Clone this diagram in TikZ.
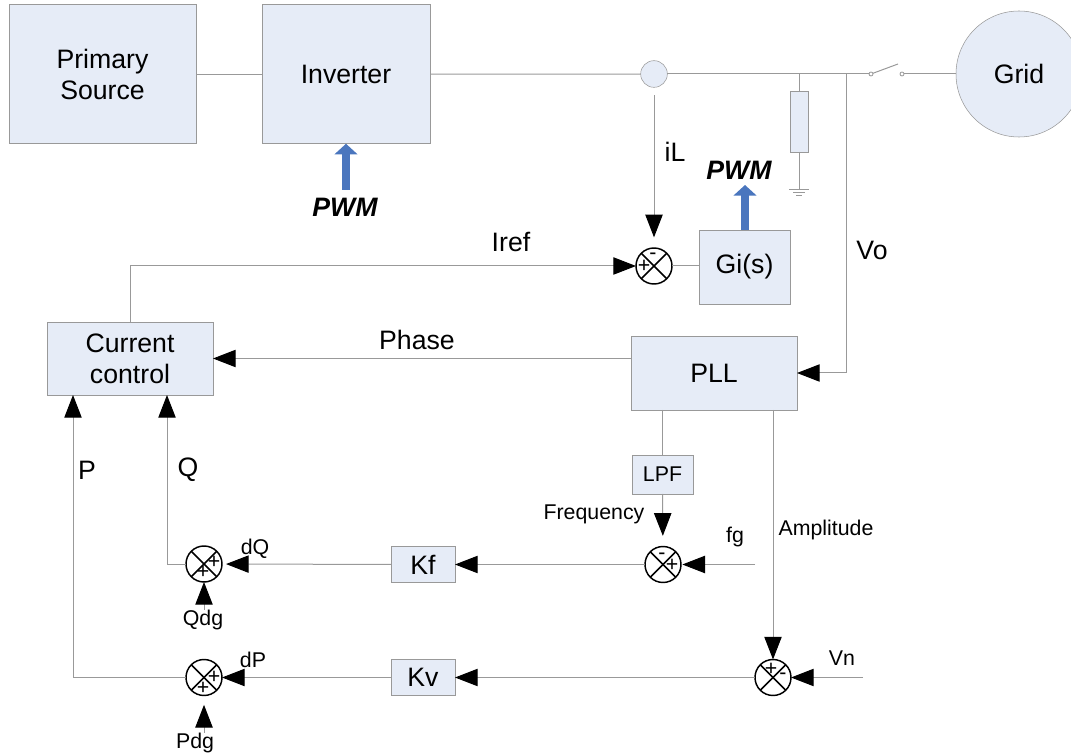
\documentclass[tikz,border=0pt]{standalone}
\usepackage{fontspec}
\setmainfont{Liberation Sans}
\usepackage{xcolor}
\usetikzlibrary{shapes, positioning, arrows.meta}
\definecolor{boxfill}{HTML}{E6ECF7}
\definecolor{linegray}{HTML}{999999}
\definecolor{pwmblue}{HTML}{4A76BE}
\tikzset{
    block/.style={draw=linegray, fill=boxfill, rectangle, line width=0.7pt, inner sep=0pt, outer sep=0pt, align=center, font=\fontsize{20}{23}\selectfont},
    wire/.style={draw=linegray, line width=0.75pt},
    sig/.style={wire, -{Triangle[color=black, fill=black, length=17pt, width=13pt]}},
    pwmarrow/.style={draw=pwmblue, line width=6pt, -{Triangle[length=8pt, width=17pt]}},
    junction/.style={circle, draw=black, line width=1.1pt, minimum size=27pt, inner sep=0pt, outer sep=0pt,
        path picture={
            \draw[black, line width=1.1pt] (path picture bounding box.north west) -- (path picture bounding box.south east);
            \draw[black, line width=1.1pt] (path picture bounding box.north east) -- (path picture bounding box.south west);
        }},
    sign/.style={inner sep=0pt, font=\fontsize{16}{16}\selectfont},
    big/.style={inner sep=0pt, font=\fontsize{20}{23}\selectfont},
    small/.style={inner sep=0pt, font=\fontsize{16}{18}\selectfont},
    pwmtext/.style={inner sep=0pt, font=\fontsize{20}{23}\selectfont\bfseries\itshape},
    contact/.style={circle, draw=linegray, line width=0.6pt, minimum size=3pt, inner sep=0pt, outer sep=0pt},
}

\begin{document}
\begin{tikzpicture}[x=0.75pt, y=-0.75pt]
    \useasboundingbox (0, 0) rectangle (1071, 755);

    \node[block, minimum width=140.25pt, minimum height=104.25pt] (source) at (102.5, 74.25) {Primary\\Source};
    \node[block, minimum width=126pt, minimum height=104.25pt] (inverter) at (346, 74.25) {Inverter};
    \node[circle, draw=linegray, fill=boxfill, minimum size=20pt, inner sep=0pt, outer sep=0pt] (sensor) at (654, 74) {};
    \node[circle, draw=linegray, fill=boxfill, minimum size=94.5pt, inner sep=0pt, outer sep=0pt, font=\fontsize{20}{23}\selectfont] (grid) at (1019, 74) {Grid};
    \node[block, minimum width=13.5pt, minimum height=45.75pt] (load) at (799, 121.5) {};
    \node[contact] (sw1) at (871, 74) {};
    \node[contact] (sw2) at (902, 74) {};
    \node[block, minimum width=68.25pt, minimum height=55.5pt] (gi) at (744.5, 267) {Gi(s)};
    \node[block, minimum width=124.5pt, minimum height=54.75pt] (cc) at (130, 358.5) {Current\\control};
    \node[block, minimum width=124.5pt, minimum height=55.5pt] (pll) at (714, 373) {PLL};
    \node[block, minimum width=45.75pt, minimum height=29.25pt, font=\fontsize{16}{18}\selectfont] (lpf) at (662.5, 474.5) {LPF};
    \node[block, minimum width=48pt, minimum height=27pt] (kf) at (423, 564.5) {Kf};
    \node[block, minimum width=48pt, minimum height=27pt] (kv) at (423, 677.5) {Kv};

    \node[junction] (j1) at (654, 266) {};
    \node[junction] (j2) at (663, 564.5) {};
    \node[junction] (j3) at (773, 677.5) {};
    \node[junction] (j4) at (204, 564) {};
    \node[junction] (j5) at (204, 677.5) {};

    \node[sign] (j1p) at (644, 266) {+};
    \node[sign] (j1m) at (653, 256) {-};
    \node[sign] (j2m) at (662, 556) {-};
    \node[sign] (j2p) at (672, 565) {+};
    \node[sign] (j3p) at (771, 669) {+};
    \node[sign] (j3m) at (783, 676) {-};
    \node[sign] (j4p) at (214, 562) {+};
    \node[sign] (j4q) at (203, 572) {+};
    \node[sign] (j5p) at (214, 677) {+};
    \node[sign] (j5q) at (203, 688) {+};

    \node[pwmtext] (pwm1) at (345, 207) {PWM};
    \node[pwmtext] (pwm2) at (739, 170) {PWM};
    \node[small] (il) at (675, 152) {\fontsize{20}{23}\selectfont iL};
    \node[big] (iref) at (511, 242) {Iref};
    \node[big] (vo) at (872, 250) {Vo};
    \node[big] (phase) at (417, 340) {Phase};
    \node[big] (plabel) at (87, 470) {P};
    \node[big] (qlabel) at (188, 470) {Q};
    \node[small] (dq) at (255, 549) {dQ};
    \node[small] (dp) at (253, 660) {dP};
    \node[small] (qdg) at (203, 620) {Qdg};
    \node[small] (pdg) at (195, 743) {Pdg};
    \node[small] (freq) at (594, 514) {Frequency};
    \node[small] (ampl) at (826, 530) {Amplitude};
    \node[small] (fg) at (735, 537) {fg};
    \node[small] (vn) at (842, 658) {Vn};

    \coordinate (loadtap) at (799, 74);
    \coordinate (votap) at (846, 74);
    \coordinate (earth) at (799, 190);
    \coordinate (earth1a) at (789, 190);
    \coordinate (earth1b) at (809, 190);
    \coordinate (earth2a) at (793, 193);
    \coordinate (earth2b) at (805, 193);
    \coordinate (earth3a) at (796, 196);
    \coordinate (earth3b) at (802, 196);
    \coordinate (blade) at (898, 64);
    \coordinate (pwmtail) at (346, 190);
    \coordinate (pwmtip) at (745, 185);
    \coordinate (fgin) at (755, 564.5);
    \coordinate (vnin) at (863, 677.5);
    \coordinate (pin) at (73, 395);
    \coordinate (qin) at (167, 395);

    \draw[wire] (source) -- (inverter);
    \draw[wire] (inverter) -- (sensor);
    \draw[wire] (sensor) -- (sw1);
    \draw[wire] (sw1) -- (blade);
    \draw[wire] (sw2) -- (grid);
    \draw[wire] (loadtap) -- (load);
    \draw[wire] (load) -- (earth);
    \draw[wire] (earth1a) -- (earth1b);
    \draw[wire] (earth2a) -- (earth2b);
    \draw[wire] (earth3a) -- (earth3b);

    \draw[sig, shorten <=6pt, shorten >=8pt] (sensor) -- (j1);
    \draw[sig] (cc.north) |- (j1);
    \draw[wire] (j1) -- (gi.west |- j1);
    \draw[sig] (votap) |- (pll.east);
    \draw[sig] (pll.west |- cc.east) -- (cc.east);
    \draw[wire] (lpf.north |- pll.south) -- (lpf.north);
    \draw[sig, shorten >=8pt] (lpf) -- (j2);
    \draw[sig] (j3 |- pll.south) -- (j3);
    \draw[sig, shorten >=1pt] (fgin) -- (j2);
    \draw[sig] (vnin) -- (j3);
    \draw[sig] (j2) -- (kf);
    \draw[sig] (j3) -- (kv);
    \draw[sig, shorten >=3pt] (kf) -- (j4);
    \draw[sig] (kv) -- (j5);
    \draw[sig] (qdg.north -| j4) -- (j4);
    \draw[sig, shorten >=7pt] (pdg.north -| j5) -- (j5);
    \draw[sig] (j4) -| (qin);
    \draw[sig] (j5) -| (pin);

    \draw[pwmarrow] (pwmtail) -- (inverter.south);
    \draw[pwmarrow] (gi.north -| pwmtip) -- (pwmtip);
\end{tikzpicture}
\end{document}
